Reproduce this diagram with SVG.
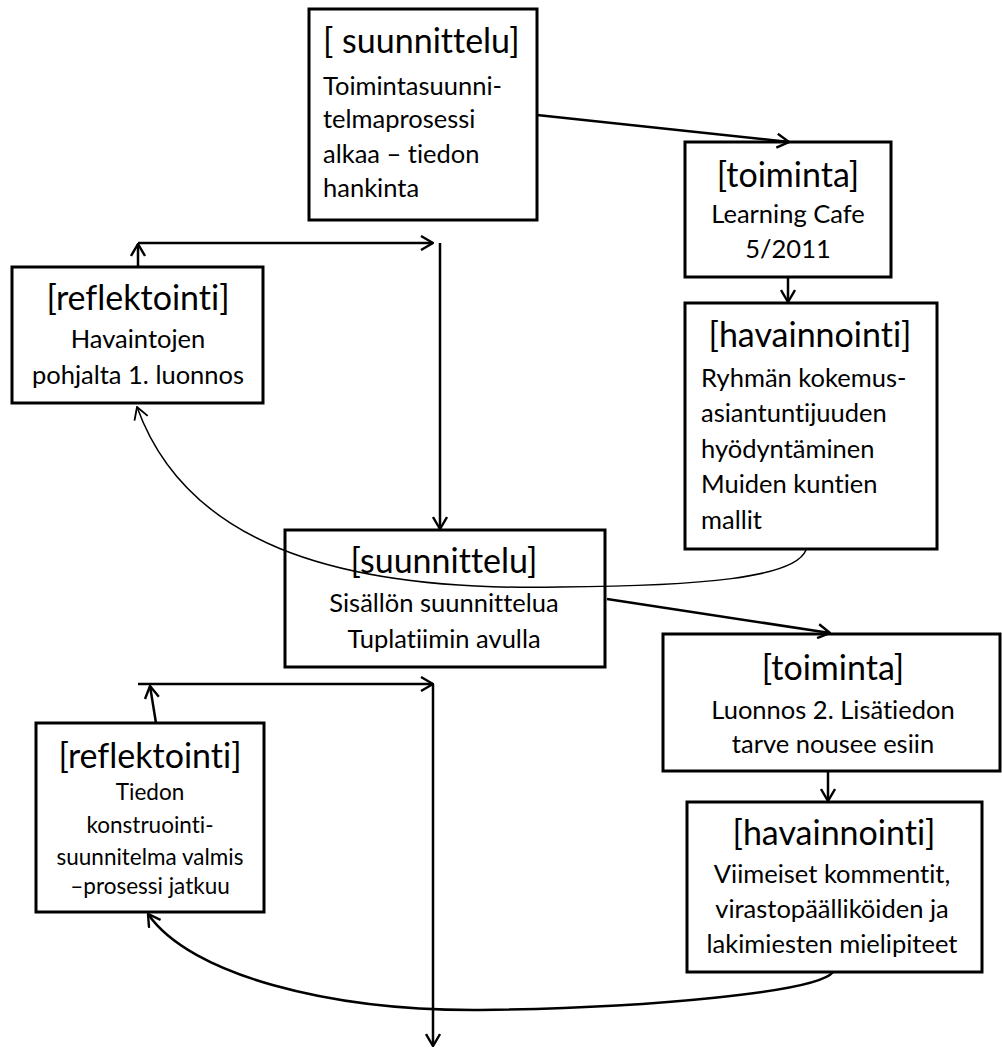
<svg xmlns="http://www.w3.org/2000/svg" width="1002" height="1048" viewBox="0 0 1002 1048">
<style>
.box{fill:#fff;stroke:#000;stroke-width:3}
.t{font-family:Lato,"Liberation Sans",sans-serif;fill:#000;font-variant-ligatures:none;font-feature-settings:"liga" 0}
.h{font-size:34px}
.b{font-size:25.5px}
.s{font-size:22.5px}
.c{text-anchor:middle}
.ln{fill:none;stroke:#000;stroke-width:2.5}
.thin{fill:none;stroke:#000;stroke-width:1.5}
</style>
<defs>
<marker id="ah" viewBox="0 0 14 16" refX="13" refY="8" markerWidth="14" markerHeight="16" markerUnits="userSpaceOnUse" orient="auto">
<path d="M1,1 L13,8 L1,15" fill="none" stroke="#000" stroke-width="2.4"/>
</marker>
<marker id="ahs" viewBox="0 0 14 16" refX="13" refY="8" markerWidth="14" markerHeight="16" markerUnits="userSpaceOnUse" orient="auto">
<path d="M1,1 L13,8 L1,15" fill="none" stroke="#000" stroke-width="1.8"/>
</marker>
</defs>
<rect width="1002" height="1048" fill="#fff"/>
<g id="n1">
<rect class="box" x="309" y="9" width="228" height="211"/>
<text class="t h" x="323" y="53">[ suunnittelu]</text>
<text class="t b" x="323" y="95">Toimintasuunni-</text>
<text class="t b" x="323" y="128">telmaprosessi</text>
<text class="t b" x="323" y="163">alkaa – tiedon</text>
<text class="t b" x="323" y="197">hankinta</text>
</g>
<g id="n2">
<rect class="box" x="685" y="142" width="206" height="135"/>
<text class="t h c" x="788" y="187">[toiminta]</text>
<text class="t b c" x="788" y="223">Learning Cafe</text>
<text class="t b c" x="788" y="258">5/2011</text>
</g>
<g id="n3">
<rect class="box" x="685" y="303" width="252" height="246"/>
<text class="t h c" x="810" y="347">[havainnointi]</text>
<text class="t b" x="701" y="387">Ryhmän kokemus-</text>
<text class="t b" x="701" y="422">asiantuntijuuden</text>
<text class="t b" x="701" y="458">hyödyntäminen</text>
<text class="t b" x="701" y="493">Muiden kuntien</text>
<text class="t b" x="701" y="529">mallit</text>
</g>
<g id="n4">
<rect class="box" x="12" y="267" width="251" height="136"/>
<text class="t h c" x="138" y="310">[reflektointi]</text>
<text class="t b c" x="138" y="348">Havaintojen</text>
<text class="t b c" x="138" y="384">pohjalta 1. luonnos</text>
</g>
<g id="n5">
<rect class="box" x="285" y="530" width="320" height="137"/>
<text class="t h c" x="444" y="573">[suunnittelu]</text>
<text class="t b c" x="444" y="612">Sisällön suunnittelua</text>
<text class="t b c" x="444" y="648">Tuplatiimin avulla</text>
</g>
<g id="n6">
<rect class="box" x="663" y="634" width="337" height="137"/>
<text class="t h c" x="833" y="680">[toiminta]</text>
<text class="t b c" x="833" y="719">Luonnos 2. Lisätiedon</text>
<text class="t b c" x="833" y="753">tarve nousee esiin</text>
</g>
<g id="n7">
<rect class="box" x="687" y="802" width="295" height="170"/>
<text class="t h c" x="834" y="845">[havainnointi]</text>
<text class="t b c" x="832" y="883">Viimeiset kommentit,</text>
<text class="t b c" x="832" y="918">virastopäälliköiden ja</text>
<text class="t b c" x="832" y="953">lakimiesten mielipiteet</text>
</g>
<g id="n8">
<rect class="box" x="36" y="723" width="228" height="189"/>
<text class="t h c" x="150" y="768">[reflektointi]</text>
<text class="t s c" x="150" y="800">Tiedon</text>
<text class="t s c" x="150" y="833">konstruointi-</text>
<text class="t s c" x="150" y="865">suunnitelma valmis</text>
<text class="t s c" x="150" y="894">–prosessi jatkuu</text>
</g>
<g id="connectors">
<line class="ln" x1="537" y1="115" x2="789" y2="142" marker-end="url(#ah)"/>
<line class="ln" x1="788" y1="277" x2="788" y2="302" marker-end="url(#ah)"/>
<line class="ln" x1="138" y1="267" x2="138" y2="244" marker-end="url(#ah)"/>
<line class="ln" x1="138" y1="243" x2="433" y2="243" marker-end="url(#ah)"/>
<line class="ln" x1="440" y1="243" x2="440" y2="529" marker-end="url(#ah)"/>
<path class="thin" d="M806,550 C795,578 700,586 560,587 C330,592 185,540 137,407" marker-end="url(#ahs)"/>
<line class="ln" x1="607" y1="599" x2="830" y2="633" marker-end="url(#ah)"/>
<line class="ln" x1="828" y1="772" x2="828" y2="801" marker-end="url(#ah)"/>
<line class="ln" x1="156" y1="723" x2="150" y2="686" marker-end="url(#ah)"/>
<line class="ln" x1="138" y1="684" x2="433" y2="684" marker-end="url(#ah)"/>
<line class="ln" x1="433" y1="684" x2="433" y2="1046" marker-end="url(#ah)"/>
<path class="ln" d="M833,972 C818,992 650,1008 480,1010 C330,1011 190,975 148,914" stroke-width="3" marker-end="url(#ah)"/>
</g>
</svg>
